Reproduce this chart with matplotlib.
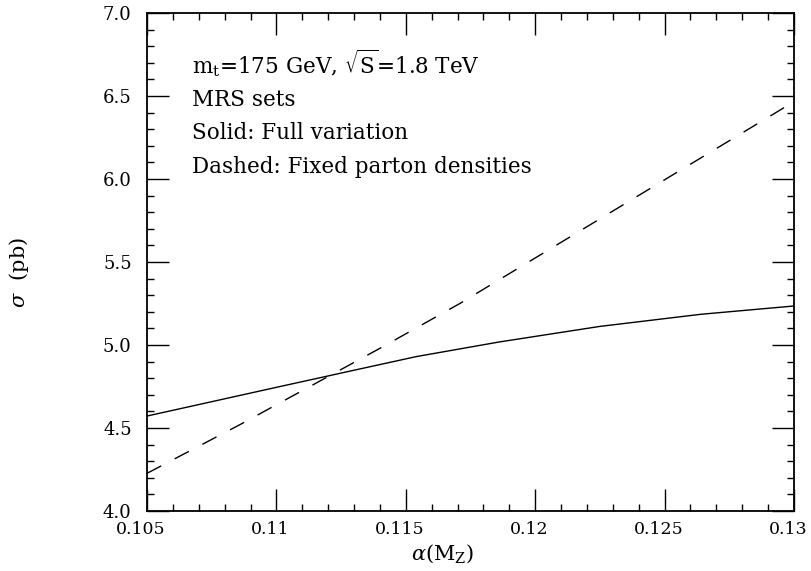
import matplotlib
matplotlib.use("Agg")
import matplotlib.pyplot as plt
import matplotlib.transforms as mtransforms
from matplotlib.ticker import FixedLocator, MultipleLocator

plt.rcParams['font.family'] = 'DejaVu Serif'
plt.rcParams['mathtext.fontset'] = 'dejavuserif'

# values
alpha_solid = [0.105, 0.110, 0.1130, 0.1154, 0.1186, 0.1225, 0.1264, 0.130]
sigma_solid = [4.572, 4.745, 4.848, 4.930, 5.018, 5.112, 5.185, 5.235]

alpha_dashed = [0.105, 0.1086, 0.1140, 0.1171, 0.1235, 0.130]
sigma_dashed = [4.227, 4.521, 4.980, 5.251, 5.854, 6.466]

xticks = [0.105, 0.11, 0.115, 0.12, 0.125, 0.13]
xticklabels = ['0.105', '0.11', '0.115', '0.12', '0.125', '0.13']
yticks = [4.0, 4.5, 5.0, 5.5, 6.0, 6.5, 7.0]
yticklabels = ['4.0', '4.5', '5.0', '5.5', '6.0', '6.5', '7.0']

notes = [r'm$_{\rm t}$=175 GeV, $\sqrt{\rm S}$=1.8 TeV',
         'MRS sets',
         'Solid: Full variation',
         'Dashed: Fixed parton densities']

fig = plt.figure(figsize=(8.11, 5.71), dpi=100)
ax = fig.add_axes([147/811, 1 - 511/571, (794 - 147)/811, (511 - 13)/571])

ax.plot(alpha_solid, sigma_solid, color='black', lw=1.0)
ax.plot(alpha_dashed, sigma_dashed, color='black', lw=1.0, dashes=(11.5, 11))

ax.set_xlim(0.105, 0.13)
ax.set_ylim(4.0, 7.0)
ax.xaxis.set_major_locator(FixedLocator(xticks))
ax.set_xticklabels(xticklabels)
ax.yaxis.set_major_locator(FixedLocator(yticks))
ax.set_yticklabels(yticklabels)
ax.xaxis.set_minor_locator(MultipleLocator(0.001))
ax.yaxis.set_minor_locator(MultipleLocator(0.1))

ax.tick_params(which='both', direction='in', top=True, right=True, width=1.0)
ax.tick_params(which='major', length=15.5)
ax.tick_params(which='minor', length=5)
ax.tick_params(axis='x', which='major', pad=7.5, labelsize=12.5)
ax.tick_params(axis='y', which='major', pad=11, labelsize=13)
for s in ax.spines.values():
    s.set_linewidth(1.3)

# x tick labels sit a little left of their ticks in the original
shift = mtransforms.ScaledTranslation(-6/100, 0, fig.dpi_scale_trans)
for lab in ax.get_xticklabels():
    lab.set_transform(lab.get_transform() + shift)

ax.set_xlabel(r'$\alpha$(M$_{\rm Z}$)', fontsize=15, va='top')
ax.xaxis.set_label_coords(0.4575, -0.064)
ax.set_ylabel(r'$\sigma$  (pb)', fontsize=15)
ax.yaxis.set_label_coords(-0.179, 0.478)

baselines = [0.879, 0.8133, 0.7464, 0.6781]
for t, yy in zip(notes, baselines):
    ax.text(0.0696, yy, t, transform=ax.transAxes, fontsize=15.5, va='baseline', ha='left')

fig.savefig('out.png', dpi=100)
